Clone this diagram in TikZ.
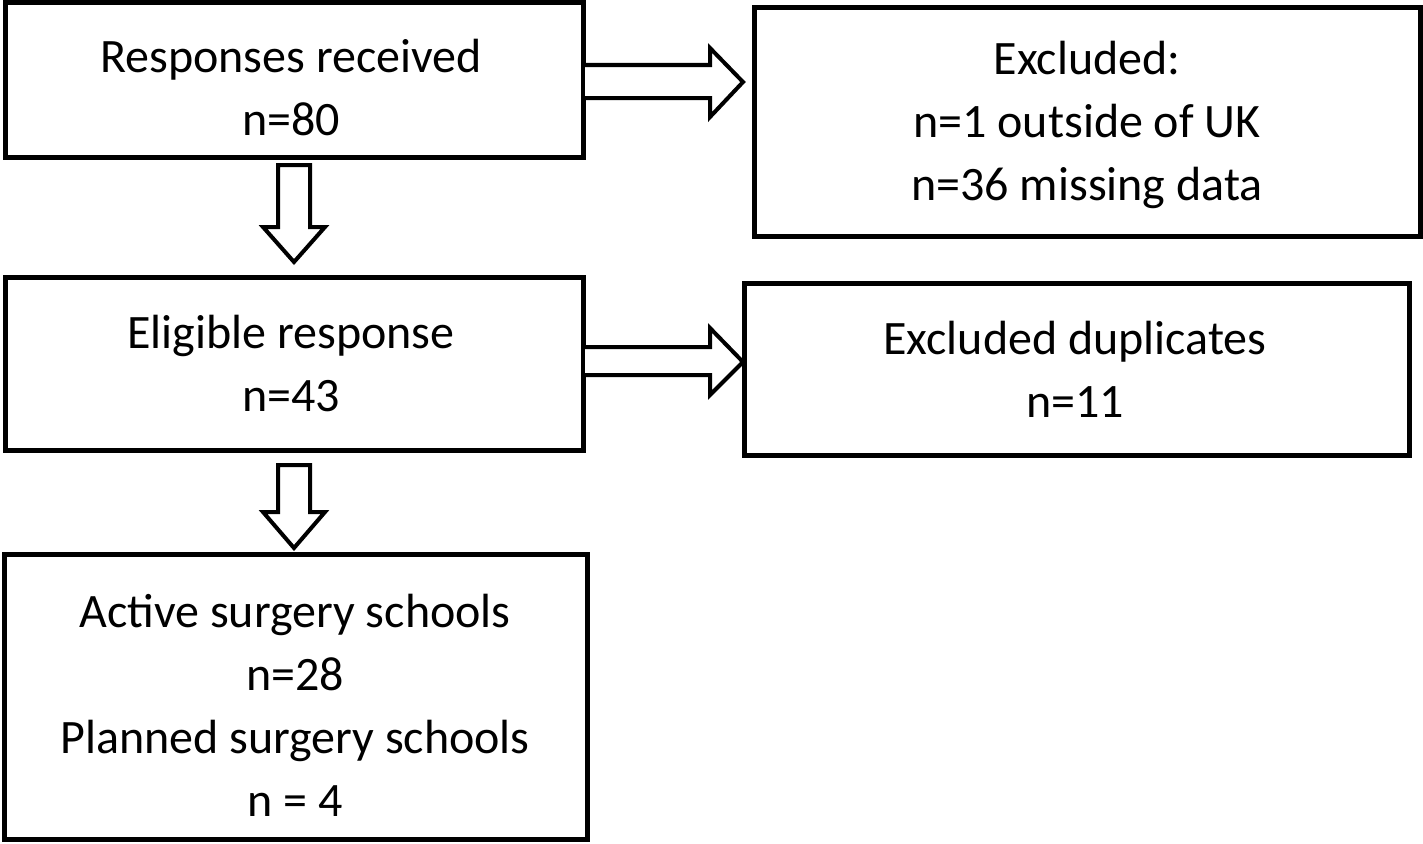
\documentclass[tikz,border=0pt]{standalone}
\usepackage{fontspec}
\setmainfont{Carlito}
\begin{document}
\begin{tikzpicture}[x=1pt,y=-1pt,
  box/.style={draw=black, line width=5pt, fill=white, inner sep=0pt},
  txt/.style={align=center, inner sep=0pt, font=\fontsize{48}{63}\selectfont},
  barrow/.style={draw=black, line width=4pt, fill=white, line join=miter}]
\useasboundingbox (0,0) rectangle (1423,843);
\node[box, minimum width=578pt, minimum height=154pt] (b1) at (294,80) {};
\node[box, minimum width=666pt, minimum height=229pt] (b2) at (1087,122) {};
\node[box, minimum width=578pt, minimum height=173pt] (b3) at (294,364) {};
\node[box, minimum width=665pt, minimum height=172pt] (b4) at (1077,369) {};
\node[box, minimum width=583pt, minimum height=285pt] (b5) at (296,697) {};
\node[txt] (t1) at (291,88) {Responses received\\n=80};
\node[txt] (t2) at (1087,125) {Excluded:\\n=1 outside of UK\\n=36 missing data};
\node[txt] (t3) at (291,363) {Eligible response\\n=43};
\node[txt] (t4) at (1075,369) {Excluded duplicates\\n=11};
\node[txt] (t5) at (295,705) {Active surgery schools\\n=28\\Planned surgery schools\\n = 4};
% right arrows
\draw[barrow] (585,65) -- (710,65) -- (710,48) -- (743,82) -- (710,117) -- (710,98) -- (585,98);
\draw[barrow] (585,347) -- (710,347) -- (710,328) -- (743,362) -- (710,395) -- (710,375) -- (585,375);
% down arrows
\draw[barrow] (278,165) -- (310,165) -- (310,227) -- (325,227) -- (294,262) -- (263,227) -- (278,227) -- cycle;
\draw[barrow] (278,465) -- (310,465) -- (310,512) -- (325,512) -- (294,548) -- (263,512) -- (278,512) -- cycle;
\end{tikzpicture}
\end{document}
